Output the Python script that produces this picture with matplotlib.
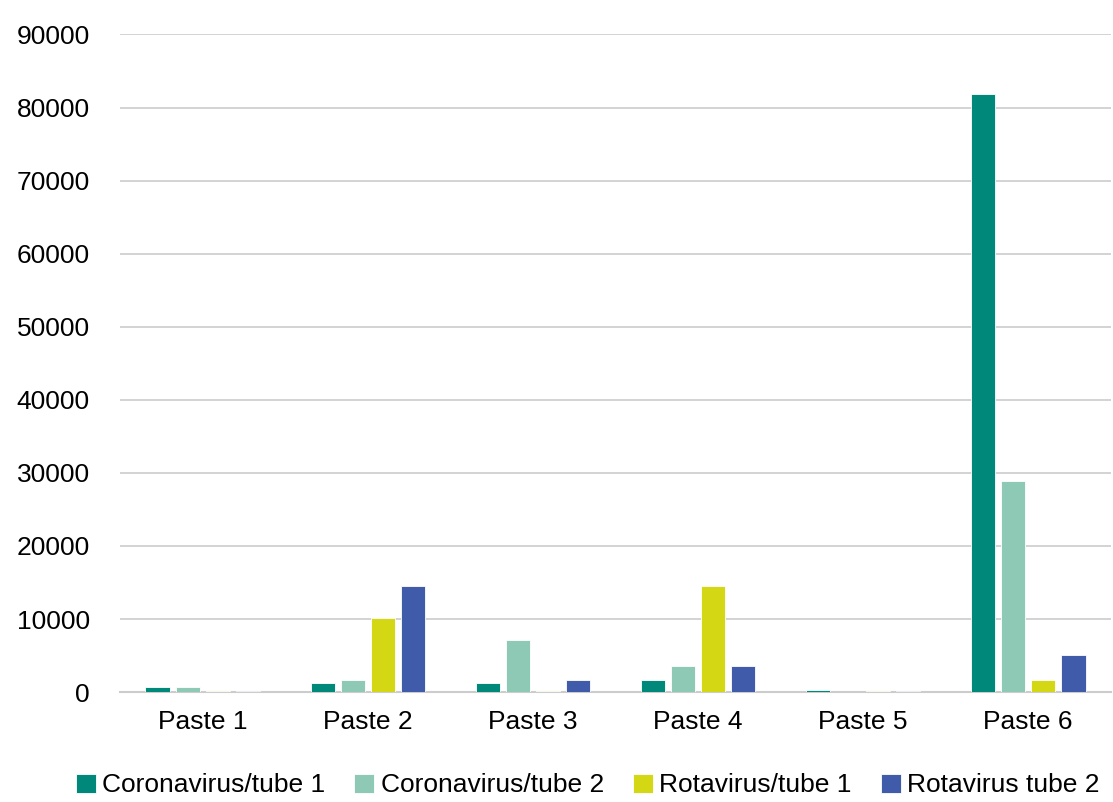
import numpy as np
import matplotlib
matplotlib.use("Agg")
import matplotlib.pyplot as plt

plt.rcParams["font.family"] = ["Liberation Sans", "DejaVu Sans"]

categories = ["Paste 1", "Paste 2", "Paste 3", "Paste 4", "Paste 5", "Paste 6"]
series_names = ["Coronavirus/tube 1", "Coronavirus/tube 2", "Rotavirus/tube 1", "Rotavirus tube 2"]
corona_tube1 = [650, 1200, 1200, 1700, 250, 81900]
corona_tube2 = [650, 1700, 7100, 3550, 80, 28900]
rota_tube1 = [120, 10200, 200, 14500, 120, 1700]
rota_tube2 = [120, 14500, 1700, 3550, 120, 5050]
colors = ["#00897B", "#8DC9B5", "#D4D714", "#3F5BA9"]

fig = plt.figure(figsize=(11.13, 8.02), dpi=100)
ax = fig.add_axes([0.108, 0.137, 0.89, 0.82])

x = np.arange(len(categories))
step = 0.182
width = 0.148
for i, (vals, name) in enumerate(zip([corona_tube1, corona_tube2, rota_tube1, rota_tube2], series_names)):
    ax.bar(x + (i - 1.5) * step, vals, width, color=colors[i], label=name,
           edgecolor="white", linewidth=0.6, zorder=3)

ax.set_xlim(-0.5, len(categories) - 0.5)
ax.set_ylim(0, 90000)
ax.set_yticks(np.arange(0, 90001, 10000))
ax.set_xticks(x)
ax.set_xticklabels(categories)
ax.tick_params(axis="both", labelsize=19, length=0, colors="black")
ax.tick_params(axis="x", pad=13)
ax.tick_params(axis="y", pad=22)
ax.grid(axis="y", color="#CCCCCC", linewidth=1.2, zorder=0)
for s in ["top", "right", "left"]:
    ax.spines[s].set_visible(False)
ax.spines["bottom"].set_color("#CCCCCC")
ax.spines["bottom"].set_linewidth(1.5)

fig.legend(loc="lower center", bbox_to_anchor=(0.528, -0.024), ncol=4, frameon=False,
           fontsize=19, handlelength=0.75, handleheight=0.75, handletextpad=0.25,
           columnspacing=1.1)

fig.savefig("out.png", dpi=100, facecolor="white")
